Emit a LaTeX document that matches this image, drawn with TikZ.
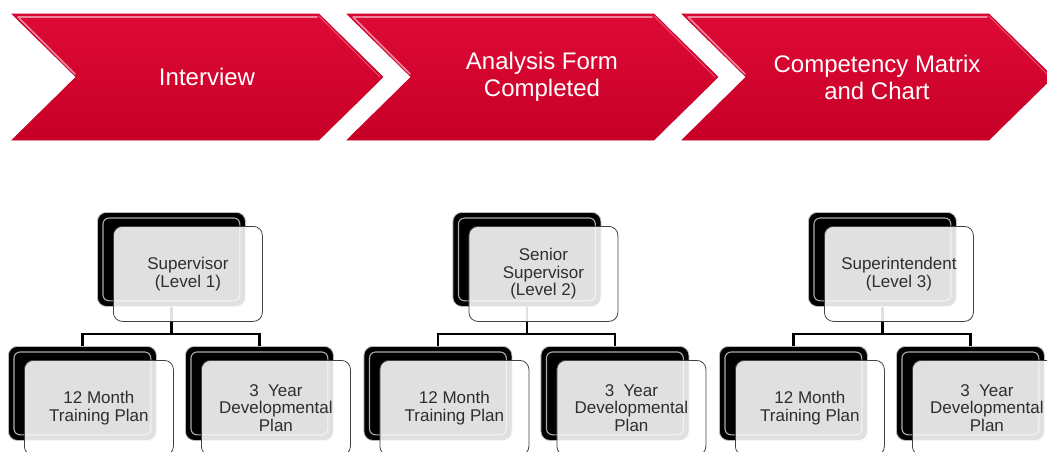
\documentclass[tikz,border=0pt]{standalone}
\usepackage{fontspec}
\setmainfont{Liberation Sans}
\usepackage{tikz}
\usetikzlibrary{calc}
\definecolor{stepred}{HTML}{D6002B}
\definecolor{steptop}{HTML}{DE0A36}
\definecolor{stepbot}{HTML}{C70028}
\definecolor{stephi}{HTML}{F3A6B6}
\definecolor{boxtext}{HTML}{2E2E2E}
\tikzset{
  stage/.style={top color=steptop, bottom color=stepbot, draw=stepbot, line width=0.6pt, line join=miter},
  stagehi/.style={draw=stephi, line width=1.6pt, line cap=round, line join=round, opacity=0.8},
  stagetext/.style={text=white, align=center, font=\fontsize{24}{27}\selectfont},
  backbox/.style={draw=gray!55, line width=0.8pt, fill=black, rounded corners=9pt,
    minimum width=148pt, minimum height=94pt, anchor=north west, inner sep=0pt},
  glint/.style={draw=gray!65, line width=1.1pt, rounded corners=6pt},
  frontbox/.style={draw=black!75, line width=0.8pt, fill=white, fill opacity=0.88, text opacity=1,
    rounded corners=9pt, minimum width=149pt, minimum height=95pt, anchor=north west,
    inner sep=2pt, align=center, text=boxtext, font=\fontsize{17}{17.5}\selectfont},
  link/.style={draw=black, line width=2.4pt},
}
% black card behind, with its inner highlight
\newcommand{\backcard}[3]{%
  \node[backbox] (#1-back) at (#2,#3) {};
  \draw[glint] ($(#1-back.north west)+(6,6)$) rectangle ($(#1-back.south east)+(-6,-6)$);
}
% light card on top, shifted right/down from its black card
\newcommand{\frontcard}[2]{%
  \node[frontbox] (#1) at ($(#1-back.north west)+(16,14)$) {#2};
}

\begin{document}
\begin{tikzpicture}[x=1pt,y=-1pt]
  \useasboundingbox (0,0) rectangle (1047,451);

  % process chevrons
  \foreach \i/\X/\txt in {1/12/Interview, 2/347/{Analysis Form\\Completed}, 3/682/{Competency Matrix\\and Chart}}{
    \path[stage] (\X,14) -- (\X+307,14) -- (\X+371,77) -- (\X+307,140) -- (\X,140) -- (\X+64,77) -- cycle;
    \draw[stagehi] (\X+63,74) -- (\X+6,17) -- (\X+305,17);
    \draw[stagehi, line width=1pt, opacity=0.5] (\X+307,16) -- (\X+368,77);
    \node[stagetext] (stage\i) at (\X+195,77) {\txt};
  }

  % org charts
  \foreach \c/\X/\lead in {1/97/{Supervisor\\(Level 1)}, 2/452.5/{Senior\\Supervisor\\(Level 2)}, 3/808/{Superintendent\\(Level 3)}}{
    \backcard{lead\c}{\X}{212}
    \backcard{plan\c}{\X-89}{346}
    \backcard{dev\c}{\X+88}{346}
    \coordinate (fork\c) at ($(lead\c-back.south)+(0,27)$);
    \draw[link] (lead\c-back.south) -- (fork\c);
    \draw[link] (plan\c-back.north) |- (fork\c) -| (dev\c-back.north);
    \frontcard{lead\c}{\lead}
    \frontcard{plan\c}{12 Month\\Training Plan}
    \frontcard{dev\c}{3~~Year\\Developmental\\Plan}
  }
\end{tikzpicture}
\end{document}
